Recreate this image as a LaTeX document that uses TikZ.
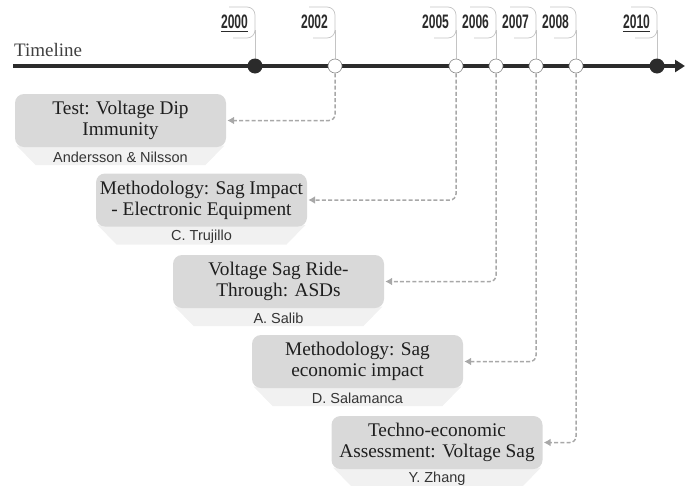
\documentclass[tikz,border=0pt]{standalone}
\usepackage{fontspec}
\usepackage{graphicx}
\setmainfont{Liberation Serif}
\setsansfont{Liberation Sans}
\usetikzlibrary{arrows.meta}
\definecolor{tl}{HTML}{2B2B2B}
\definecolor{boxg}{HTML}{D9D9D9}
\definecolor{stripg}{HTML}{F1F1F1}
\definecolor{conng}{HTML}{A8A8A8}
\definecolor{brk}{HTML}{C4C4C4}
\definecolor{txt}{HTML}{1E1E1E}
\newcommand\yrtxt[1]{\scalebox{0.62}[1]{#1}}
\begin{document}
\begin{tikzpicture}[x=1pt,y=-1pt,
  titlebox/.style={fill=boxg, rounded corners=9pt, minimum width=211pt, minimum height=53pt,
    align=center, inner sep=0pt, text=txt, font=\fontsize{19.3}{21}\selectfont},
  authortxt/.style={inner sep=0pt, text=txt!90, font=\sffamily\fontsize{14.5}{16}\selectfont},
  yearlbl/.style={inner sep=0pt, text=tl, font=\sffamily\bfseries\fontsize{19.5}{20}\selectfont},
  dotfill/.style={circle, fill=tl, minimum size=15pt, inner sep=0pt},
  dotopen/.style={circle, fill=white, draw=black!45, line width=0.6pt, minimum size=14pt, inner sep=0pt},
  brkline/.style={draw=brk, line width=0.7pt},
  conn/.style={draw=conng, line width=1.5pt, dash pattern=on 4pt off 2.2pt, rounded corners=6pt,
    -{Latex[length=7pt,width=8pt]}, shorten >=1pt},
]
\useasboundingbox (0,0) rectangle (694,485);
\clip (0,0) rectangle (694,485);

% timeline
\coordinate (tlstart) at (13,66);
\coordinate (tlend) at (685,66);
\node[anchor=base west, inner sep=0pt, text=tl!90, font=\fontsize{19}{21}\selectfont] (tltext) at (14,56) {Timeline};

% year brackets (behind the line)
\foreach \X/\Y in {255/2000, 335/2002, 456/2005, 496/2006, 536/2007, 576/2008, 657/2010}{
  \draw[brkline, rounded corners=8pt] ({\X-26},7) -- (\X,7) -- (\X,38) -- ({\X-22},38);
  \draw[brkline] (\X,30) -- (\X,60);
  \node[yearlbl] (y\Y) at ({\X-20.5},21.5) {\yrtxt{\Y}};
}
\draw[tl, line width=1.1pt] ([yshift=-2.6pt]y2000.south west) -- ([yshift=-2.6pt]y2000.south east);
\draw[tl, line width=1.1pt] ([yshift=-2.6pt]y2010.south west) -- ([yshift=-2.6pt]y2010.south east);

\draw[tl, line width=4pt, -{Triangle[length=10pt,width=12pt]}] (tlstart) -- (tlend);

% dots
\foreach \X/\Y/\st in {255/2000/dotfill, 335/2002/dotopen, 456/2005/dotopen, 496/2006/dotopen,
  536/2007/dotopen, 576/2008/dotopen, 657/2010/dotfill}{
  \node[\st] (d\Y) at (\X,66) {};
}

% boxes
\foreach \cx/\cy/\nm/\ttl/\au in {
  120.5/120.5/b1/{Test: Voltage Dip\\Immunity}/{Andersson \& Nilsson},
  201.5/200/b2/{Methodology: Sag Impact\\- Electronic Equipment}/{C. Trujillo},
  278.5/281.5/b3/{Voltage Sag Ride-\\Through: ASDs}/{A. Salib},
  357.5/361.5/b4/{Methodology: Sag\\economic impact}/{D. Salamanca},
  437/442.5/b5/{Techno-economic\\Assessment: Voltage Sag}/{Y. Zhang}}{
  \coordinate (\nm c) at (\cx,\cy);
  \fill[stripg] ({\cx-104},{\cy+25}) -- ++(208,0) -- ++(-19,19.5) -- ++(-170,0) -- cycle;
  \node[titlebox] (\nm) at (\nm c) {\ttl};
  \node[authortxt] (\nm a) at ([yshift=-9.8pt]\nm.south) {\au};
}

% connectors
\draw[conn] (d2002.south) |- (b1.east);
\draw[conn] (d2005.south) |- (b2.east);
\draw[conn] (d2006.south) |- (b3.east);
\draw[conn] (d2007.south) |- (b4.east);
\draw[conn] (d2008.south) |- (b5.east);
\end{tikzpicture}
\end{document}
